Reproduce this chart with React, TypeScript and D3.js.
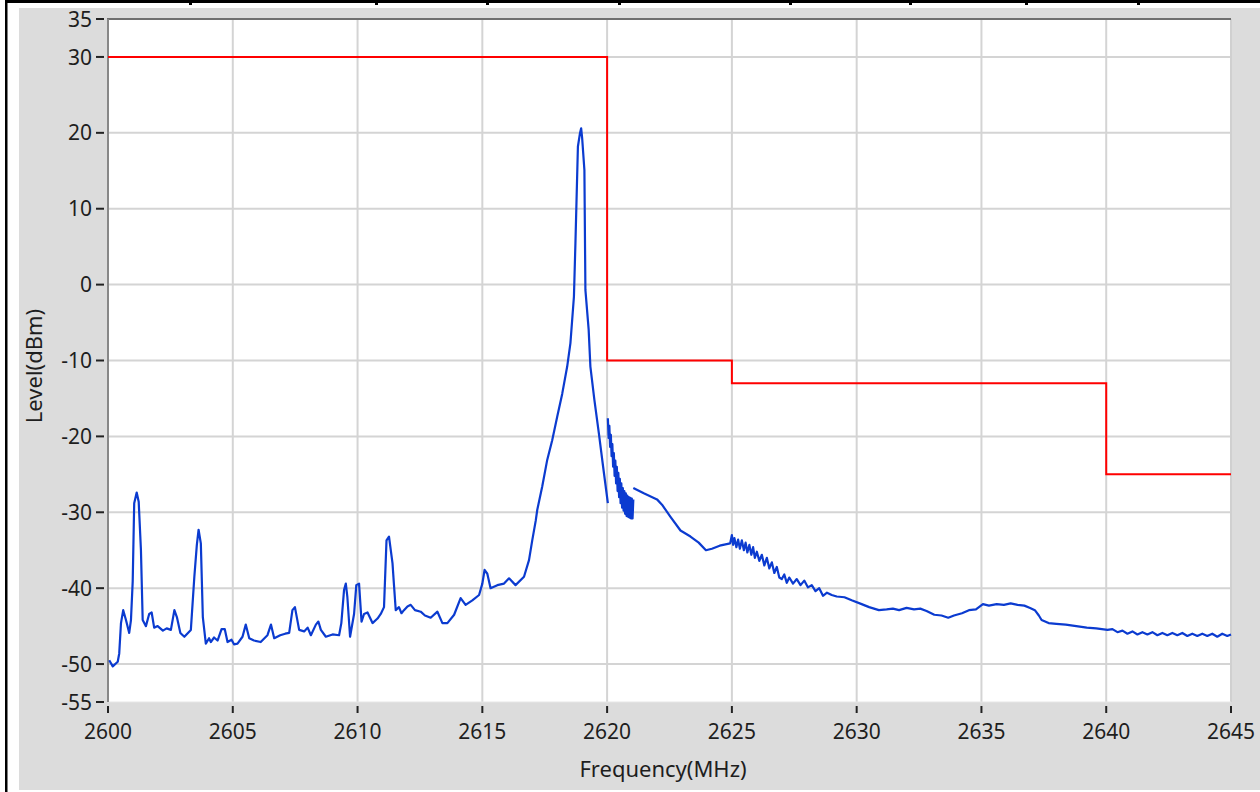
import React from "react";
import * as d3 from "d3";

// limit mask (MHz, dBm) - step line
const maskFreq = [2600, 2620, 2620, 2625, 2625, 2640, 2640, 2645];
const maskLevel = [30, 30, -10, -10, -13, -13, -25, -25];

// measured spectrum, main part up to 2620 MHz
const traceMain: [number, number][] = [
  [2600.05, -49.5], [2600.19, -50.3], [2600.39, -49.7], [2600.45, -48.6], [2600.52, -44.6],
  [2600.61, -42.9], [2600.72, -44.2], [2600.85, -45.9], [2600.92, -44.2], [2600.99, -39.1],
  [2601.05, -28.8], [2601.15, -27.4], [2601.23, -28.6], [2601.32, -35.0], [2601.39, -44.2],
  [2601.52, -45.0], [2601.65, -43.4], [2601.75, -43.2], [2601.85, -45.2], [2601.99, -45.0],
  [2602.2, -45.6], [2602.35, -45.3], [2602.52, -45.5], [2602.66, -42.9], [2602.76, -43.8],
  [2602.9, -45.9], [2603.06, -46.4], [2603.32, -45.5], [2603.46, -38.5], [2603.56, -34.3],
  [2603.63, -32.3], [2603.72, -34.1], [2603.8, -43.8], [2603.92, -47.3], [2604.05, -46.6],
  [2604.12, -47.1], [2604.25, -46.5], [2604.39, -46.9], [2604.55, -45.4], [2604.68, -45.4],
  [2604.79, -47.1], [2604.95, -46.8], [2605.05, -47.4], [2605.19, -47.3], [2605.39, -46.4],
  [2605.52, -44.8], [2605.66, -46.6], [2605.85, -46.9], [2606.12, -47.1], [2606.39, -46.2],
  [2606.53, -44.8], [2606.66, -46.6], [2606.9, -46.2], [2607.1, -46.0], [2607.26, -45.9],
  [2607.39, -42.9], [2607.49, -42.5], [2607.66, -45.5], [2607.86, -45.7], [2608.0, -45.2],
  [2608.13, -46.2], [2608.33, -44.8], [2608.43, -44.4], [2608.53, -45.5], [2608.73, -46.4],
  [2609.0, -46.1], [2609.26, -46.2], [2609.35, -44.6], [2609.46, -40.2], [2609.53, -39.4],
  [2609.59, -41.1], [2609.7, -46.4], [2609.86, -43.4], [2609.95, -39.6], [2610.06, -39.4],
  [2610.16, -44.4], [2610.26, -43.4], [2610.4, -43.2], [2610.6, -44.6], [2610.8, -44.0],
  [2610.93, -43.4], [2611.06, -42.5], [2611.16, -33.7], [2611.26, -33.2], [2611.4, -36.7],
  [2611.46, -39.6], [2611.53, -42.9], [2611.66, -42.5], [2611.76, -43.3], [2611.86, -42.9],
  [2612.0, -42.4], [2612.13, -42.2], [2612.3, -42.9], [2612.53, -43.1], [2612.7, -43.6],
  [2612.93, -43.9], [2613.2, -43.1], [2613.4, -44.6], [2613.6, -44.6], [2613.87, -43.5],
  [2614.13, -41.3], [2614.33, -42.2], [2614.6, -41.6], [2614.87, -40.9], [2615.0, -39.4],
  [2615.09, -37.6], [2615.2, -38.1], [2615.33, -40.0], [2615.6, -39.6], [2615.87, -39.4],
  [2616.07, -38.7], [2616.33, -39.6], [2616.67, -38.5], [2616.87, -36.3], [2617.0, -33.7],
  [2617.14, -31.1], [2617.2, -29.7], [2617.4, -26.6], [2617.6, -23.1], [2617.8, -20.5],
  [2618.0, -17.4], [2618.2, -14.4], [2618.4, -10.8], [2618.53, -7.7], [2618.67, -1.6],
  [2618.73, 5.4], [2618.83, 18.2], [2618.91, 19.9], [2618.96, 20.6], [2619.0, 19.3],
  [2619.09, 15.1], [2619.13, -0.7], [2619.26, -5.9], [2619.33, -10.8], [2619.49, -15.2],
  [2619.67, -19.6], [2619.84, -24.0], [2620.03, -28.8],
];

// dense noisy part just above 2620 MHz
const traceBand: [number, number][] = [
  [2620.03, -17.6], [2620.06, -20.2], [2620.09, -18.6], [2620.12, -21.4], [2620.15, -19.8],
  [2620.18, -22.6], [2620.21, -21.0], [2620.24, -24.0], [2620.27, -22.2], [2620.3, -25.2],
  [2620.33, -23.2], [2620.36, -26.2], [2620.39, -24.0], [2620.42, -27.2], [2620.45, -24.8],
  [2620.48, -28.0], [2620.51, -25.6], [2620.54, -28.8], [2620.57, -26.2], [2620.6, -29.4],
  [2620.63, -26.8], [2620.66, -29.8], [2620.69, -27.2], [2620.72, -30.2], [2620.75, -27.5],
  [2620.78, -30.5], [2620.81, -27.8], [2620.84, -30.6], [2620.87, -28.0], [2620.9, -30.7],
  [2620.93, -28.1], [2620.96, -30.8], [2620.99, -28.2], [2621.02, -30.8], [2621.05, -28.3],
];

// rest of the spectrum
const traceHigh: [number, number][] = [
  [2621.05, -26.8], [2621.47, -27.5], [2622.0, -28.3], [2622.2, -29.0], [2622.54, -30.6],
  [2622.94, -32.4], [2623.34, -33.2], [2623.67, -34.0], [2623.96, -35.0], [2624.2, -34.8],
  [2624.51, -34.4], [2624.93, -34.1], [2625.0, -33.0], [2625.05, -34.3], [2625.1, -33.4],
  [2625.18, -34.6], [2625.25, -33.6], [2625.32, -34.8], [2625.4, -33.7], [2625.48, -35.0],
  [2625.55, -34.0], [2625.62, -35.3], [2625.7, -34.3], [2625.78, -35.6], [2625.85, -34.6],
  [2625.92, -36.0], [2626.0, -35.2], [2626.1, -36.4], [2626.2, -35.6], [2626.3, -37.0],
  [2626.4, -36.0], [2626.5, -37.4], [2626.6, -36.6], [2626.7, -38.0], [2626.8, -37.2],
  [2626.9, -38.6], [2627.0, -38.8], [2627.1, -38.2], [2627.2, -39.3], [2627.3, -38.6],
  [2627.45, -39.4], [2627.6, -38.8], [2627.75, -39.6], [2627.9, -39.0], [2628.05, -39.9],
  [2628.2, -39.6], [2628.35, -40.4], [2628.5, -40.0], [2628.65, -41.0], [2628.81, -40.6],
  [2629.0, -40.9], [2629.2, -41.1], [2629.51, -41.2], [2629.8, -41.6], [2630.2, -42.1],
  [2630.5, -42.5], [2630.89, -42.9], [2631.2, -42.8], [2631.45, -42.7], [2631.7, -42.9],
  [2632.0, -42.6], [2632.3, -42.8], [2632.55, -42.7], [2632.8, -43.0], [2633.11, -43.5],
  [2633.4, -43.6], [2633.67, -43.9], [2633.9, -43.6], [2634.22, -43.3], [2634.5, -42.9],
  [2634.78, -42.8], [2635.06, -42.1], [2635.3, -42.3], [2635.61, -42.1], [2635.9, -42.2],
  [2636.17, -42.0], [2636.45, -42.2], [2636.72, -42.3], [2636.95, -42.6], [2637.14, -42.9],
  [2637.3, -43.6], [2637.41, -44.2], [2637.69, -44.6], [2638.0, -44.7], [2638.38, -44.8],
  [2638.8, -45.0], [2639.22, -45.2], [2639.6, -45.3], [2640.05, -45.5], [2640.25, -45.4],
  [2640.45, -45.8], [2640.65, -45.6], [2640.85, -46.0], [2641.05, -45.7], [2641.25, -46.1],
  [2641.45, -45.8], [2641.65, -46.1], [2641.85, -45.8], [2642.05, -46.2], [2642.25, -45.9],
  [2642.45, -46.2], [2642.65, -45.9], [2642.85, -46.2], [2643.05, -45.9], [2643.25, -46.3],
  [2643.45, -46.0], [2643.65, -46.3], [2643.85, -46.0], [2644.05, -46.3], [2644.25, -46.0],
  [2644.45, -46.4], [2644.65, -46.0], [2644.85, -46.3], [2645.0, -46.1],
];

const yTicks = [35, 30, 20, 10, 0, -10, -20, -30, -40, -50, -55];
const xTicks = [2600, 2605, 2610, 2615, 2620, 2625, 2630, 2635, 2640, 2645];
const tableCols = [190, 376, 487, 619, 790, 910, 1026, 1138];

const W = 1260, H = 792;
const plot = { left: 108, top: 19, right: 1231, bottom: 702 };
const font = "'Noto Sans', 'Open Sans', sans-serif";

export default function App() {
  const x = d3.scaleLinear().domain([2600, 2645]).range([plot.left, plot.right]);
  const y = d3.scaleLinear().domain([-55, 35]).range([plot.bottom, plot.top]);

  const line = d3.line<[number, number]>()
    .x((d) => x(d[0]))
    .y((d) => y(d[1]));

  const mask: [number, number][] = maskFreq.map((f, i) => [f, maskLevel[i]]);

  return (
    <svg width={W} height={H} style={{ position: "absolute", left: 0, top: 0 }}>
      <rect x={0} y={0} width={W} height={H} fill="#ffffff" />
      {/* table remnant at the top */}
      <rect x={5} y={0} width={W - 5} height={3} fill="#000" />
      {tableCols.map((c) => (
        <rect key={c} x={c - 1} y={0} width={3} height={5} fill="#000" />
      ))}
      <rect x={5} y={0} width={2.5} height={H} fill="#000" />

      {/* panel */}
      <rect x={19} y={8} width={W - 19} height={782} fill="#dcdcdc" />
      <rect x={plot.left} y={plot.top} width={plot.right - plot.left} height={plot.bottom - plot.top} fill="#fff" />

      {/* grid */}
      {xTicks.slice(1, -1).map((t) => (
        <line key={"gx" + t} x1={x(t)} x2={x(t)} y1={plot.top} y2={plot.bottom} stroke="#d4d4d4" strokeWidth={2} />
      ))}
      {yTicks.slice(1, -1).map((t) => (
        <line key={"gy" + t} x1={plot.left} x2={plot.right} y1={y(t)} y2={y(t)} stroke="#d4d4d4" strokeWidth={2} />
      ))}

      {/* frame */}
      <line x1={plot.right} x2={plot.right} y1={plot.top} y2={plot.bottom} stroke="#d0d0d0" strokeWidth={2} />
      <line x1={plot.left} x2={plot.right} y1={plot.bottom} y2={plot.bottom} stroke="#e6e6e6" strokeWidth={1} />
      <line x1={plot.left - 1} x2={plot.right} y1={plot.top} y2={plot.top} stroke="#6f6f6f" strokeWidth={2} />
      <line x1={plot.left} x2={plot.left} y1={plot.top} y2={plot.bottom} stroke="#888" strokeWidth={2} />

      {/* limit mask */}
      <path d={line(mask) || ""} fill="none" stroke="#ff0000" strokeWidth={2} />

      {/* spectrum */}
      {[traceMain, traceBand, traceHigh].map((tr, i) => (
        <path key={i} d={line(tr) || ""} fill="none" stroke="#0b3bd0" strokeWidth={2.2} strokeLinejoin="round" />
      ))}

      {/* y axis */}
      {yTicks.map((t) => (
        <g key={"ty" + t}>
          <line x1={96} x2={104} y1={y(t)} y2={y(t)} stroke="#222" strokeWidth={2} />
          <text x={92} y={y(t)} dy="0.36em" textAnchor="end" fontFamily={font} fontSize={21} fill="#1e1e1e">
            {t}
          </text>
        </g>
      ))}
      <text
        transform={`translate(42,366) rotate(-90)`}
        textAnchor="middle"
        fontFamily={font}
        fontSize={22}
        fill="#1e1e1e"
      >
        Level(dBm)
      </text>

      {/* x axis */}
      {xTicks.map((t) => (
        <g key={"tx" + t}>
          <line x1={x(t)} x2={x(t)} y1={706} y2={713} stroke="#222" strokeWidth={2} />
          <text x={x(t)} y={739} textAnchor="middle" fontFamily={font} fontSize={21} fill="#1e1e1e">
            {t}
          </text>
        </g>
      ))}
      <text x={663} y={777} textAnchor="middle" fontFamily={font} fontSize={22} fill="#1e1e1e">
        Frequency(MHz)
      </text>
    </svg>
  );
}
